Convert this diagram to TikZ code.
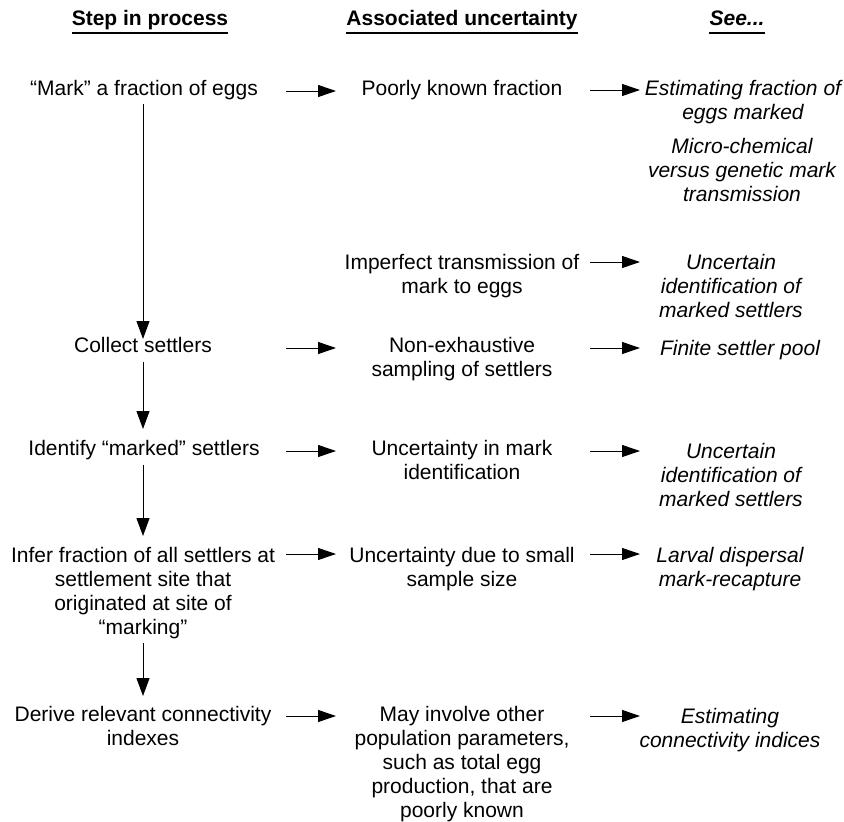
\documentclass[tikz,border=0pt]{standalone}
\usepackage{fontspec}
\setmainfont{Liberation Sans}
\usetikzlibrary{arrows.meta,calc}
\begin{document}
\begin{tikzpicture}[x=1pt,y=-1pt,
  txt/.style={anchor=base, align=center, inner sep=0pt, font=\fontsize{21}{24}\selectfont},
  see/.style={txt, font=\fontsize{21}{24}\selectfont\itshape},
  hdr/.style={anchor=base, inner sep=0pt, font=\fontsize{21}{24}\selectfont\bfseries},
  uline/.style={line width=1.4pt},
  harr/.style={-{Triangle[length=18pt,width=12pt]}, line width=1pt},
  varr/.style={-{Triangle[length=18pt,width=13pt]}, line width=1pt}]
\useasboundingbox (0,0) rectangle (844,822);

% headers
\node[hdr] (h1) at (150,25) {Step in process};
\node[hdr] (h2) at (462,25) {Associated uncertainty};
\node[hdr,font=\fontsize{21}{24}\selectfont\bfseries\itshape] (h3) at (737,25) {See...};
\foreach \h in {h1,h2,h3}
  \draw[uline] ($(\h.base west)+(0,8)$) -- ($(\h.base east)+(0,8)$);

% column 1 (anchor base = baseline of last line)
\node[txt] (s1) at (144,95) {“Mark” a fraction of eggs};
\node[txt] (s2) at (143,352) {Collect settlers};
\node[txt] (s3) at (144,455) {Identify “marked” settlers};
\node[txt] (s4) at (143,634) {Infer fraction of all settlers at\\settlement site that\\originated at site of\\“marking”};
\node[txt] (s5) at (143,745) {Derive relevant connectivity\\indexes};

% column 2
\node[txt] (u1) at (462,95) {Poorly known fraction};
\node[txt] (u2) at (462,293) {Imperfect transmission of\\mark to eggs};
\node[txt] (u3) at (462,376) {Non-exhaustive\\sampling of settlers};
\node[txt] (u4) at (462,479) {Uncertainty in mark\\identification};
\node[txt] (u5) at (462,586) {Uncertainty due to small\\sample size};
\node[txt] (u6) at (462,817) {May involve other\\population parameters,\\such as total egg\\production, that are\\poorly known};

% column 3
\node[see] (r1) at (743,119) {Estimating fraction of\\eggs marked};
\node[see] (r0) at (742,201) {Micro-chemical\\versus genetic mark\\transmission};
\node[see] (r2) at (731,317) {Uncertain\\identification of\\marked settlers};
\node[see] (r3) at (740,355) {Finite settler pool};
\node[see] (r4) at (731,506) {Uncertain\\identification of\\marked settlers};
\node[see] (r5) at (730,586) {Larval dispersal\\mark-recapture};
\node[see] (r6) at (730,747) {Estimating\\connectivity indices};

% horizontal arrow end points
\foreach \n/\y in {a1/91,a3/348,a4/451,a5/554,a6/716}{
  \coordinate (\n s) at (286,\y);
  \coordinate (\n e) at (336,\y);
  \draw[harr] (\n s) -- (\n e);
}
\foreach \n/\y in {b1/90,b2/262,b3/348,b4/451,b5/554,b6/716}{
  \coordinate (\n s) at (590,\y);
  \coordinate (\n e) at (640,\y);
  \draw[harr] (\n s) -- (\n e);
}

% vertical arrows
\coordinate (v1s) at (143,104); \coordinate (v1e) at (143,339);
\coordinate (v2s) at (143,362); \coordinate (v2e) at (143,429);
\coordinate (v3s) at (143,465); \coordinate (v3e) at (143,536);
\coordinate (v4s) at (143,643); \coordinate (v4e) at (143,696);
\draw[varr] (v1s) -- (v1e);
\draw[varr] (v2s) -- (v2e);
\draw[varr] (v3s) -- (v3e);
\draw[varr] (v4s) -- (v4e);
\end{tikzpicture}
\end{document}
